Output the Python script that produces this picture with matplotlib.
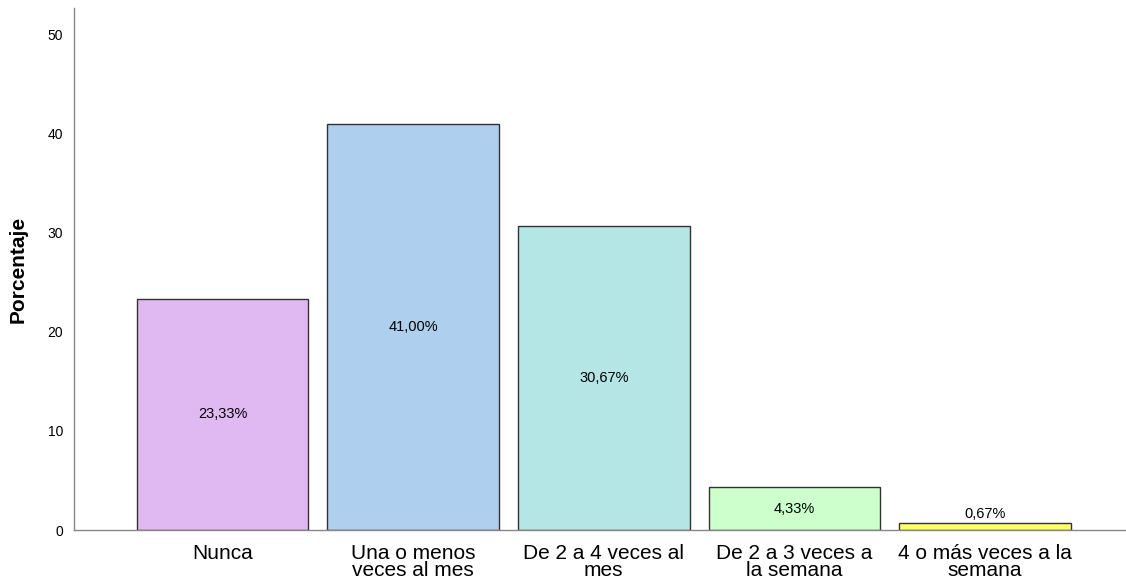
import matplotlib
matplotlib.use("Agg")
import matplotlib.pyplot as plt

plt.rcParams['font.family'] = ['Liberation Sans', 'DejaVu Sans']

# datos
categorias = ["Nunca", "Una o menos\nveces al mes", "De 2 a 4 veces al\nmes",
              "De 2 a 3 veces a\nla semana", "4 o más veces a la\nsemana"]
porcentajes = [23.33, 41.00, 30.67, 4.33, 0.67]
colores = ["#E0B9F3", "#AED0EE", "#B5E6E6", "#CCFFCC", "#FFFF66"]
yticks = [0, 10, 20, 30, 40, 50]

fig = plt.figure(figsize=(11.26, 5.85), dpi=100)
ax = fig.add_axes([74 / 1126, 1 - 530 / 585, (1126 - 74) / 1126, (530 - 8) / 585])

x = list(range(len(categorias)))
ax.bar(x, porcentajes, width=0.9, color=colores, edgecolor="#333333", linewidth=1.0)

# etiquetas de valor
for xi, v in zip(x, porcentajes):
    etiqueta = f"{v:.2f}%".replace(".", ",")
    if v < 2:
        ax.text(xi, v + 0.25, etiqueta, ha="center", va="bottom", fontsize=10.5)
    else:
        ax.text(xi, v / 2, etiqueta, ha="center", va="center", fontsize=10.5)

ax.set_xlim(-0.78, 4.74)
ax.set_ylim(0, 52.7)
ax.set_yticks(yticks)
ax.set_xticks(x)
ax.set_xticklabels(categorias, fontsize=15, linespacing=0.9)
ax.tick_params(axis="both", length=0)
ax.tick_params(axis="y", labelsize=10, pad=8)
ax.tick_params(axis="x", pad=10)
ax.set_ylabel("Porcentaje", fontsize=15, fontweight="bold")
ax.yaxis.set_label_coords(-0.0437, 0.5)

for s in ["top", "right"]:
    ax.spines[s].set_visible(False)
for s in ["left", "bottom"]:
    ax.spines[s].set_color("#888888")
    ax.spines[s].set_linewidth(1.0)

fig.savefig("out.png", dpi=100)
